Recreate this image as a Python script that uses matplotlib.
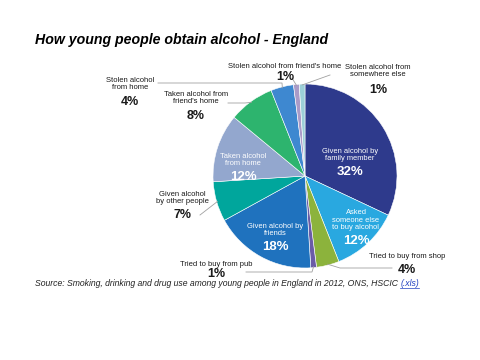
import numpy as np
import matplotlib.pyplot as plt

plt.rcParams['font.family'] = ['Liberation Sans', 'DejaVu Sans']

# slice order: clockwise from 12 o'clock
labels = ['Given alcohol by\nfamily member', 'Asked\nsomeone else\nto buy alcohol',
          'Tried to buy from shop', 'Tried to buy from pub',
          'Given alcohol by\nfriends', 'Given alcohol\nby other people',
          'Taken alcohol\nfrom home', 'Taken alcohol from\nfriend\'s home',
          'Stolen alcohol\nfrom home', 'Stolen alcohol from friend\'s home',
          'Stolen alcohol from\nsomewhere else']
values = [32, 12, 4, 1, 18, 7, 12, 8, 4, 1, 1]
colors = ['#2E3A8C', '#29A8E0', '#8CB33C', '#6A5CA6', '#1F72BE', '#00A69C',
          '#93A7CE', '#2DB46E', '#3E88D0', '#A99BC8', '#9CCFD8']

# pixel layout of the pie in the 480x360 image
W, H = 480, 360
cx, cy, r = 305, 176, 92

def px(x, y):
    # pixel (top-left origin) -> pie data coords
    return (x - cx) / r, (cy - y) / r

fig = plt.figure(figsize=(4.8, 3.6), dpi=100)
ax = fig.add_axes([(cx - r) / W, 1 - (cy + r) / H, 2 * r / W, 2 * r / H])
wedges, _ = ax.pie(values, colors=colors, startangle=90, counterclock=False,
                   wedgeprops=dict(edgecolor='white', linewidth=0.4))
ax.set_xlim(-1, 1)
ax.set_ylim(-1, 1)
ax.set_aspect('auto')

# inside labels (white): index -> pixel position of text centre
inside = {0: (350, 155), 1: (356, 220), 4: (275, 230), 6: (243, 160)}
for i, (x, y) in inside.items():
    tx, ty = px(x, y)
    ax.text(tx, ty, labels[i], color='white', fontsize=5.4, ha='center', va='center',
            linespacing=1.15)
    nl = labels[i].count('\n') + 1
    ax.text(tx, ty - (nl * 4.6 + 7.5) / r, '%d%%' % values[i], color='white',
            fontsize=9.5, fontweight='bold', ha='center', va='center')

# outside labels: index -> (text pos, pct pos, leader path in pixels after wedge point)
outside = {
    2: ((407, 257), (407, 270), [(340, 268), (392, 268)]),
    3: ((216, 264), (216, 274), [(312, 272), (246, 272)]),
    5: ((182, 198), (182, 215), [(200, 215)]),
    7: ((196, 98), (196, 116), [(245, 103), (228, 103)]),
    8: ((130, 84), (130, 102), [(282, 83), (158, 83)]),
    9: ((285, 67), (285, 77), [(292, 78)]),
    10: ((378, 71), (378, 90), [(330, 75)]),
}
for i, (tpos, ppos, path) in outside.items():
    w = wedges[i]
    ang = np.deg2rad((w.theta1 + w.theta2) / 2)
    pts = [(np.cos(ang) * 0.99, np.sin(ang) * 0.99)] + [px(*p) for p in path]
    xs, ys = zip(*pts)
    ax.plot(xs, ys, color='#A0A0A0', linewidth=0.6, clip_on=False)
    tx, ty = px(*tpos)
    ax.text(tx, ty, labels[i], color='#1A1A1A', fontsize=5.5, ha='center', va='center',
            linespacing=1.15, clip_on=False)
    tx, ty = px(*ppos)
    ax.text(tx, ty, '%d%%' % values[i], color='#1A1A1A', fontsize=9,
            fontweight='bold', ha='center', va='center', clip_on=False)

fig.text(35 / W, 1 - 40 / H, 'How young people obtain alcohol - England',
         fontsize=10.2, fontweight='bold', fontstyle='italic', va='center')

src = fig.text(35 / W, 1 - 284 / H,
               'Source: Smoking, drinking and drug use among young people in England in 2012, ONS, HSCIC ',
               fontsize=6.2, fontstyle='italic', va='center', color='#222222')
fig.canvas.draw()
bb = src.get_window_extent()
link = fig.text(bb.x1 / W, 1 - 284 / H, '(.xls)', fontsize=6.2, fontstyle='italic',
                va='center', color='#2040C0')
fig.canvas.draw()
lb = link.get_window_extent()
fig.add_artist(plt.Line2D([lb.x0 / W, lb.x1 / W], [(lb.y0 + 0.5) / H] * 2,
                          color='#2040C0', linewidth=0.5))

fig.savefig('out.png', dpi=100)
